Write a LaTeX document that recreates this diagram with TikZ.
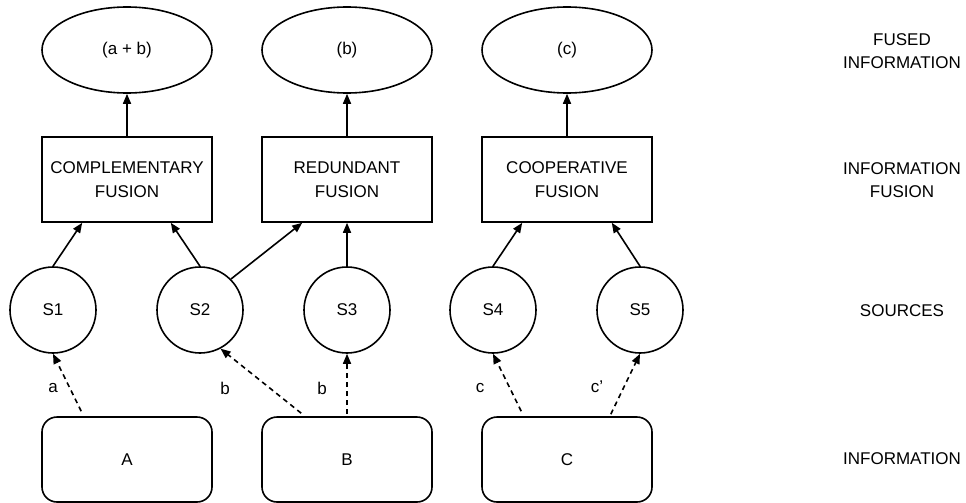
\documentclass[tikz,border=0pt]{standalone}
\usepackage{fontspec}
\setmainfont{Liberation Sans}
\usetikzlibrary{arrows.meta,calc,shapes.geometric}
\begin{document}
\begin{tikzpicture}[x=1pt,y=-1pt,
  every node/.style={font=\fontsize{17}{23.5}\selectfont},
  outcome/.style={draw,ellipse,line width=1.6pt,minimum width=170pt,minimum height=86pt,inner sep=0pt},
  fusebox/.style={draw,rectangle,line width=1.6pt,minimum width=170pt,minimum height=85pt,align=center,inner sep=0pt},
  srcnode/.style={draw,circle,line width=1.6pt,minimum size=86pt,inner sep=0pt},
  infobox/.style={draw,rectangle,rounded corners=15pt,line width=1.6pt,minimum width=170pt,minimum height=85pt,inner sep=0pt},
  solidarrow/.style={line width=1.6pt,-{Triangle[length=10pt,width=8pt]}},
  dasharrow/.style={line width=1.6pt,dash pattern=on 5pt off 4pt,-{Triangle[length=10pt,width=8pt]}},
  sidelabel/.style={align=center},
  edgelabel/.style={inner sep=0pt}]
\useasboundingbox (0,0) rectangle (966,503);
% fused information
\node[outcome] (E1) at (127,50) {(a + b)};
\node[outcome] (E2) at (347,50) {(b)};
\node[outcome] (E3) at (567,50) {(c)};
% fusion boxes
\node[fusebox] (CF) at (127,179.5) {COMPLEMENTARY\\FUSION};
\node[fusebox] (RF) at (347,179.5) {REDUNDANT\\FUSION};
\node[fusebox] (CoF) at (567,179.5) {COOPERATIVE\\FUSION};
% sources
\node[srcnode] (S1) at (53,310) {S1};
\node[srcnode] (S2) at (200,310) {S2};
\node[srcnode] (S3) at (347,310) {S3};
\node[srcnode] (S4) at (493,310) {S4};
\node[srcnode] (S5) at (640,310) {S5};
% information
\node[infobox] (A) at (127,459.5) {A};
\node[infobox] (B) at (347,459.5) {B};
\node[infobox] (C) at (567,459.5) {C};
% side labels
\node[sidelabel] (L1) at (902,51) {FUSED\\INFORMATION};
\node[sidelabel] (L2) at (902,180) {INFORMATION\\FUSION};
\node[sidelabel] (L3) at (902,311) {SOURCES};
\node[sidelabel] (L4) at (902,459) {INFORMATION};
% fusion to outcome
\draw[solidarrow] (CF.north) -- (E1.south);
\draw[solidarrow] (RF.north) -- (E2.south);
\draw[solidarrow] (CoF.north) -- (E3.south);
% sources to fusion
\draw[solidarrow] (S1.north) -- ($(CF.south west)+(41,0)$);
\draw[solidarrow] (S2.north) -- ($(CF.south east)+(-42,0)$);
\draw[solidarrow] (S2.45) -- ($(RF.south west)+(41,0)$);
\draw[solidarrow] (S3.north) -- (RF.south);
\draw[solidarrow] (S4.north) -- ($(CoF.south west)+(41,0)$);
\draw[solidarrow] (S5.north) -- ($(CoF.south east)+(-41,0)$);
% information to sources
\coordinate (a0) at ($(A.north west)+(40,-5)$);
\coordinate (b0) at ($(B.north west)+(40,-3)$);
\coordinate (b1) at ($(B.north)+(0,-2)$);
\coordinate (c0) at ($(C.north west)+(40,-5)$);
\coordinate (c1) at ($(C.north east)+(-42,-2)$);
\draw[dasharrow] (a0) -- (S1.south);
\draw[dasharrow] (b0) -- (S2.-62);
\draw[dasharrow] (b1) -- (S3.south);
\draw[dasharrow] (c0) -- (S4.south);
\draw[dasharrow] (c1) -- (S5.south);
% edge labels
\node[edgelabel] (la) at (53,388) {a};
\node[edgelabel] (lb1) at (225,388) {b};
\node[edgelabel] (lb2) at (322,388) {b};
\node[edgelabel] (lc1) at (480,388) {c};
\node[edgelabel] (lc2) at (597,387) {c'};
\end{tikzpicture}
\end{document}
